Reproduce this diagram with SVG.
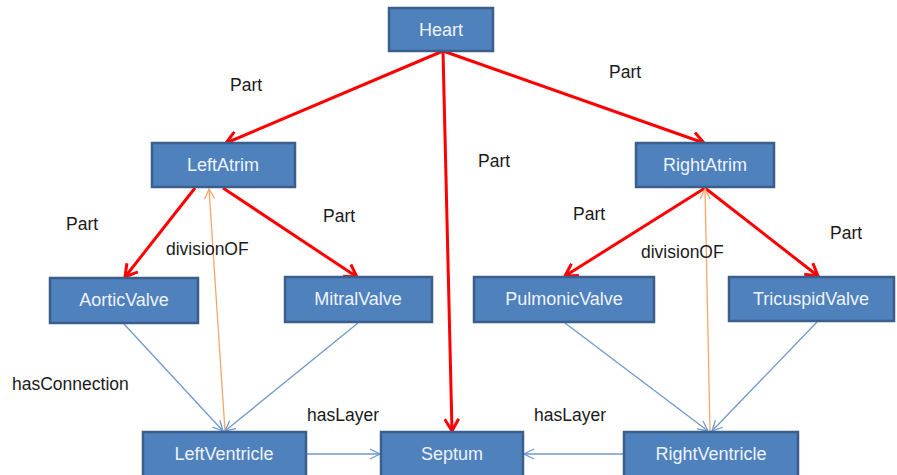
<svg xmlns="http://www.w3.org/2000/svg" width="897" height="475" viewBox="0 0 897 475">
<defs>
<style>
.box{fill:#4f81bd;stroke:#3a5f8d;stroke-width:2.5}
.bt{font-family:"Liberation Sans",Arial,sans-serif;font-size:18px;fill:#eef3fa;text-anchor:middle}
.lb{font-family:"Liberation Sans",Arial,sans-serif;font-size:17.5px;fill:#1a1a1a}
.red{stroke:#ff0000;stroke-width:3;fill:none;marker-end:url(#ar)}
.blue{stroke:#7099cc;stroke-width:1.3;fill:none;marker-end:url(#ab)}
.org{stroke:#f7a66a;stroke-width:1.3;fill:none;marker-end:url(#ao)}
</style>
<marker id="ar" markerUnits="userSpaceOnUse" viewBox="-14 -8 16 16" refX="0" refY="0" markerWidth="16" markerHeight="16" orient="auto">
<path d="M-12,-7 L0,0 L-12,7" fill="none" stroke="#ff0000" stroke-width="3"/>
</marker>
<marker id="ab" markerUnits="userSpaceOnUse" viewBox="-12 -7 14 14" refX="0" refY="0" markerWidth="14" markerHeight="14" orient="auto">
<path d="M-10,-5 L0,0 L-10,5" fill="none" stroke="#7099cc" stroke-width="1.3"/>
</marker>
<marker id="ao" markerUnits="userSpaceOnUse" viewBox="-12 -7 14 14" refX="0" refY="0" markerWidth="14" markerHeight="14" orient="auto">
<path d="M-10,-5 L0,0 L-10,5" fill="none" stroke="#f7a66a" stroke-width="1.3"/>
</marker>
</defs>
<rect width="897" height="475" fill="#ffffff"/>
<g id="connectors">
<line class="red" x1="443" y1="51" x2="226" y2="143"/>
<line class="red" x1="443" y1="51" x2="704" y2="143"/>
<line class="red" x1="443" y1="51" x2="452" y2="431"/>
<line class="red" x1="195" y1="188" x2="125" y2="277"/>
<line class="red" x1="223" y1="188" x2="357" y2="277"/>
<line class="red" x1="705" y1="188" x2="565" y2="276"/>
<line class="red" x1="705" y1="188" x2="818" y2="276"/>
<line class="org" x1="225" y1="431" x2="209" y2="189"/>
<line class="org" x1="710" y1="431" x2="705" y2="189"/>
<line class="blue" x1="124" y1="324" x2="223" y2="431"/>
<line class="blue" x1="358" y1="323" x2="225" y2="431"/>
<line class="blue" x1="565" y1="323" x2="708" y2="431"/>
<line class="blue" x1="817" y1="322" x2="712" y2="431"/>
<line class="blue" x1="307" y1="454" x2="380" y2="454"/>
<line class="blue" x1="623" y1="454" x2="524" y2="454"/>
</g>
<g id="labels">
<text class="lb" x="230" y="91">Part</text>
<text class="lb" x="609" y="78">Part</text>
<text class="lb" x="478" y="167">Part</text>
<text class="lb" x="66" y="230">Part</text>
<text class="lb" x="323" y="222">Part</text>
<text class="lb" x="573" y="220">Part</text>
<text class="lb" x="830" y="239">Part</text>
<text class="lb" x="166" y="255">divisionOF</text>
<text class="lb" x="641" y="258">divisionOF</text>
<text class="lb" x="12" y="390">hasConnection</text>
<text class="lb" x="307" y="421">hasLayer</text>
<text class="lb" x="534" y="421">hasLayer</text>
</g>
<g id="Heart"><rect class="box" x="389" y="8" width="104" height="43"/><text class="bt" x="441" y="36">Heart</text></g>
<g id="LeftAtrim"><rect class="box" x="152" y="143" width="143" height="44"/><text class="bt" x="223" y="171">LeftAtrim</text></g>
<g id="RightAtrim"><rect class="box" x="636" y="143" width="138" height="44"/><text class="bt" x="705" y="171">RightAtrim</text></g>
<g id="AorticValve"><rect class="box" x="50" y="278" width="148" height="45"/><text class="bt" x="124" y="306">AorticValve</text></g>
<g id="MitralValve"><rect class="box" x="285" y="277" width="147" height="45"/><text class="bt" x="358" y="305">MitralValve</text></g>
<g id="PulmonicValve"><rect class="box" x="474" y="277" width="180" height="45"/><text class="bt" x="564" y="305">PulmonicValve</text></g>
<g id="TricuspidValve"><rect class="box" x="729" y="277" width="165" height="44"/><text class="bt" x="811" y="305">TricuspidValve</text></g>
<g id="LeftVentricle"><rect class="box" x="143" y="432" width="163" height="46"/><text class="bt" x="224" y="460">LeftVentricle</text></g>
<g id="Septum"><rect class="box" x="381" y="432" width="142" height="46"/><text class="bt" x="452" y="460">Septum</text></g>
<g id="RightVentricle"><rect class="box" x="624" y="432" width="174" height="46"/><text class="bt" x="711" y="460">RightVentricle</text></g>
</svg>
